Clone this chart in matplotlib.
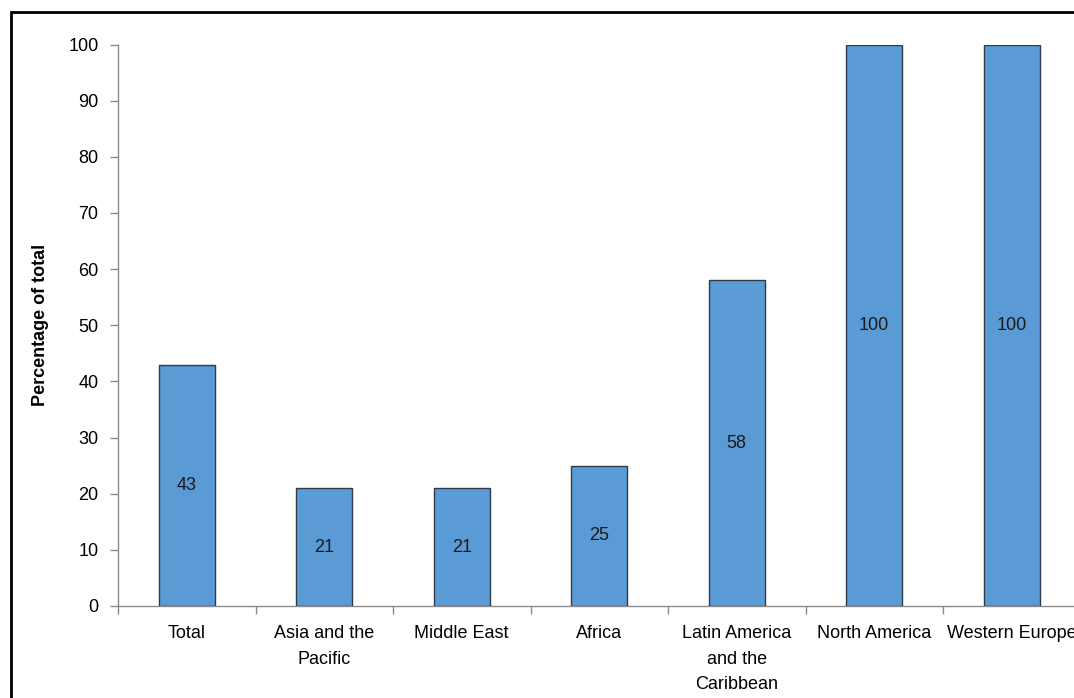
import numpy as np
import matplotlib.pyplot as plt
from matplotlib.patches import Rectangle

# Share of total by region (percent)
regions = ['Total', 'Asia and the\nPacific', 'Middle East', 'Africa',
           'Latin America\nand the\nCaribbean', 'North America', 'Western Europe']
values = [43, 21, 21, 25, 58, 100, 100]

plt.rcParams['font.family'] = ['Liberation Sans', 'DejaVu Sans']

fig = plt.figure(figsize=(10.74, 6.98), dpi=100)
W, H = 1074, 698
ax = fig.add_axes([118 / W, (H - 606) / H, 962.5 / W, (606 - 44.5) / H])

x = np.arange(len(regions))
bars = ax.bar(x, values, width=0.41, color='#5B9BD5', edgecolor='#2E3B4A',
              linewidth=1.0, zorder=3)

# value labels in the middle of each bar
for b, v in zip(bars, values):
    ax.text(b.get_x() + b.get_width() / 2, v / 2, str(v), ha='center',
            va='center', fontsize=13, color='#1a1a1a', zorder=4)

ax.set_xlim(-0.5, len(regions) - 0.5)
ax.set_ylim(0, 100)
ax.set_yticks(range(0, 101, 10))
ax.tick_params(axis='y', direction='out', length=6, width=1, color='#8c8c8c',
               labelsize=13, pad=8)

# category labels centred, tick marks on boundaries
ax.set_xticks(x)
ax.set_xticklabels(regions, fontsize=13, linespacing=1.65)
ax.tick_params(axis='x', length=0, pad=14)
ax.set_xticks(np.arange(-0.5, len(regions)), minor=True)
ax.tick_params(axis='x', which='minor', direction='out', length=6, width=1,
               color='#8c8c8c')

for side in ['top', 'right']:
    ax.spines[side].set_visible(False)
for side in ['left', 'bottom']:
    ax.spines[side].set_color('#8c8c8c')
    ax.spines[side].set_linewidth(1)

ax.set_ylabel('Percentage of total', fontsize=13, fontweight='bold',
              labelpad=14)

# outer frame
fig.patches.append(Rectangle((11 / W, -0.1), 1.2, 1 - 12 / H + 0.1,
                             transform=fig.transFigure, fill=False,
                             edgecolor='black', linewidth=2))

fig.savefig('out.png', dpi=100)
